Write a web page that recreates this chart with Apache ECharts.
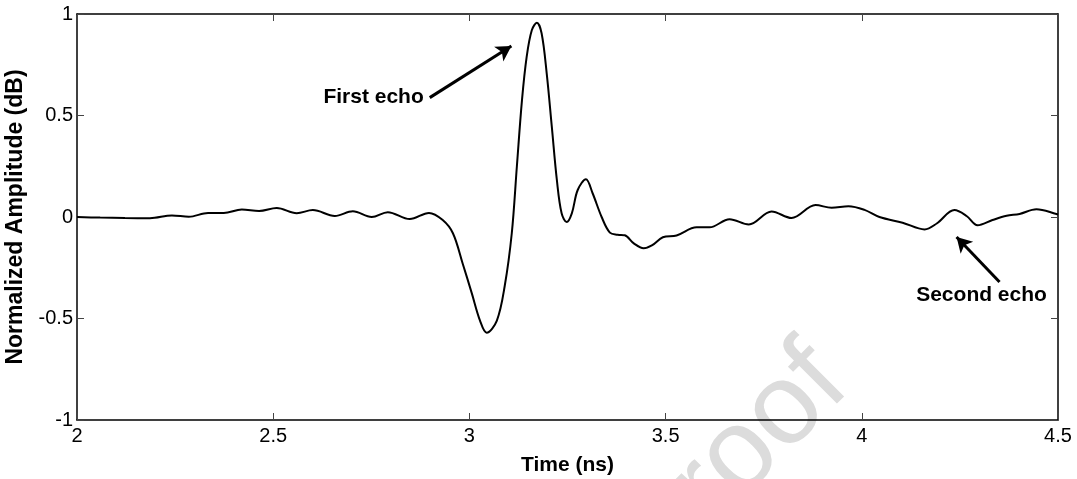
<!DOCTYPE html>
<html><head><meta charset="utf-8">
<script src="https://cdn.jsdelivr.net/npm/echarts@6/dist/echarts.min.js"></script>
<style>html,body{margin:0;padding:0;background:#fff}#c{width:1077px;height:479px}</style>
</head><body><div id="c"></div>
<script>
const timeNs = [2.000,2.059,2.122,2.186,2.242,2.285,2.334,2.374,2.420,2.464,2.509,2.560,2.601,2.657,2.703,2.751,2.792,2.848,2.897,2.932,2.958,2.983,3.006,3.027,3.044,3.070,3.090,3.108,3.121,3.134,3.146,3.159,3.172,3.184,3.197,3.210,3.223,3.235,3.248,3.261,3.276,3.297,3.314,3.337,3.358,3.378,3.396,3.419,3.444,3.465,3.493,3.528,3.579,3.612,3.663,3.712,3.770,3.821,3.882,3.923,3.966,4.007,4.045,4.104,4.160,4.191,4.236,4.267,4.295,4.333,4.369,4.402,4.445,4.496,4.500];
const amplitude = [0.000,-0.003,-0.005,-0.006,0.008,0.001,0.020,0.020,0.037,0.029,0.044,0.019,0.034,0.005,0.028,0.000,0.024,-0.010,0.020,-0.015,-0.080,-0.230,-0.375,-0.510,-0.570,-0.510,-0.340,-0.080,0.250,0.576,0.790,0.920,0.957,0.905,0.708,0.445,0.180,0.018,-0.025,0.018,0.133,0.186,0.117,0.000,-0.077,-0.087,-0.090,-0.130,-0.154,-0.140,-0.100,-0.091,-0.051,-0.051,-0.011,-0.037,0.027,-0.005,0.059,0.045,0.053,0.035,0.000,-0.028,-0.061,-0.032,0.034,0.005,-0.041,-0.015,0.006,0.015,0.038,0.015,0.012];
const xTicks = [2, 2.5, 3, 3.5, 4, 4.5];
const yTicks = [-1, -0.5, 0, 0.5, 1];
const annotations = [
  {text: 'First echo', from: [2.899, 0.588], to: [3.107, 0.842]},
  {text: 'Second echo', from: [4.351, -0.320], to: [4.2415, -0.0985]}
];

const chart = echarts.init(document.getElementById('c'), null, {renderer: 'canvas'});
const font = 'Liberation Sans, Arial, sans-serif';
const tickStyle = {show: true, inside: true, length: 7, lineStyle: {color: '#444', width: 1}};
const lineStyle = {show: true, onZero: false, lineStyle: {color: '#000', width: 1.5}};
const data = timeNs.map((t, i) => [t, amplitude[i]]);
const labelFont = {color: '#000', fontSize: 21, fontWeight: 'bold', fontFamily: font};
const option = {
  animation: false,
  backgroundColor: '#fff',
  grid: {left: 77, right: 19, top: 14, bottom: 59, show: false, containLabel: false, outerBoundsMode: 'none'},
  xAxis: [{
    type: 'value', min: xTicks[0], max: xTicks[xTicks.length-1], interval: 0.5,
    axisLine: lineStyle, axisTick: tickStyle, splitLine: {show: false},
    axisLabel: {color: '#000', fontSize: 20, fontFamily: font, margin: 6},
    name: 'Time (ns)', nameLocation: 'middle', nameGap: 35,
    nameTextStyle: labelFont
  }, {
    type: 'value', position: 'top', min: 2, max: 4.5, interval: 0.5,
    axisLine: lineStyle, axisTick: tickStyle, axisLabel: {show: false}, splitLine: {show: false}
  }],
  yAxis: [{
    type: 'value', min: yTicks[0], max: yTicks[yTicks.length-1], interval: 0.5,
    axisLine: lineStyle, axisTick: tickStyle, splitLine: {show: false},
    axisLabel: {color: '#000', fontSize: 20, fontFamily: font, margin: 4},
    name: 'Normalized Amplitude (dB)', nameLocation: 'middle', nameGap: 42,
    nameTextStyle: {color: '#000', fontSize: 23, fontWeight: 'bold', fontFamily: font}
  }, {
    type: 'value', position: 'right', min: -1, max: 1, interval: 0.5,
    axisLine: lineStyle, axisTick: tickStyle, axisLabel: {show: false}, splitLine: {show: false}
  }],
  graphic: [{
    type: 'text', left: 595, top: 325, z: -10, rotation: Math.PI/4,
    style: {text: 'Proof', fontSize: 115, fontFamily: font, fill: '#dcdcdc'}
  }],
  series: [{
    type: 'line', data: data, showSymbol: false, smooth: 0.35,
    lineStyle: {color: '#000', width: 2}, z: 5,
    markLine: {
      silent: true, symbol: ['none', 'arrow'], symbolSize: [13, 15],
      lineStyle: {color: '#000', width: 3, type: 'solid'},
      label: {show: false},
      data: annotations.map(a => [{coord: a.from}, {coord: a.to}])
    },
    markPoint: {
      silent: true, symbol: 'circle', symbolSize: 0,
      data: [
        {coord: annotations[0].from, label: Object.assign({show: true, formatter: annotations[0].text, position: 'left', distance: 6}, labelFont)},
        {coord: annotations[1].from, label: Object.assign({show: true, formatter: annotations[1].text, position: 'bottom', distance: 3, offset: [-18, 0]}, labelFont)}
      ]
    }
  }]
};
chart.setOption(option);
</script></body></html>
